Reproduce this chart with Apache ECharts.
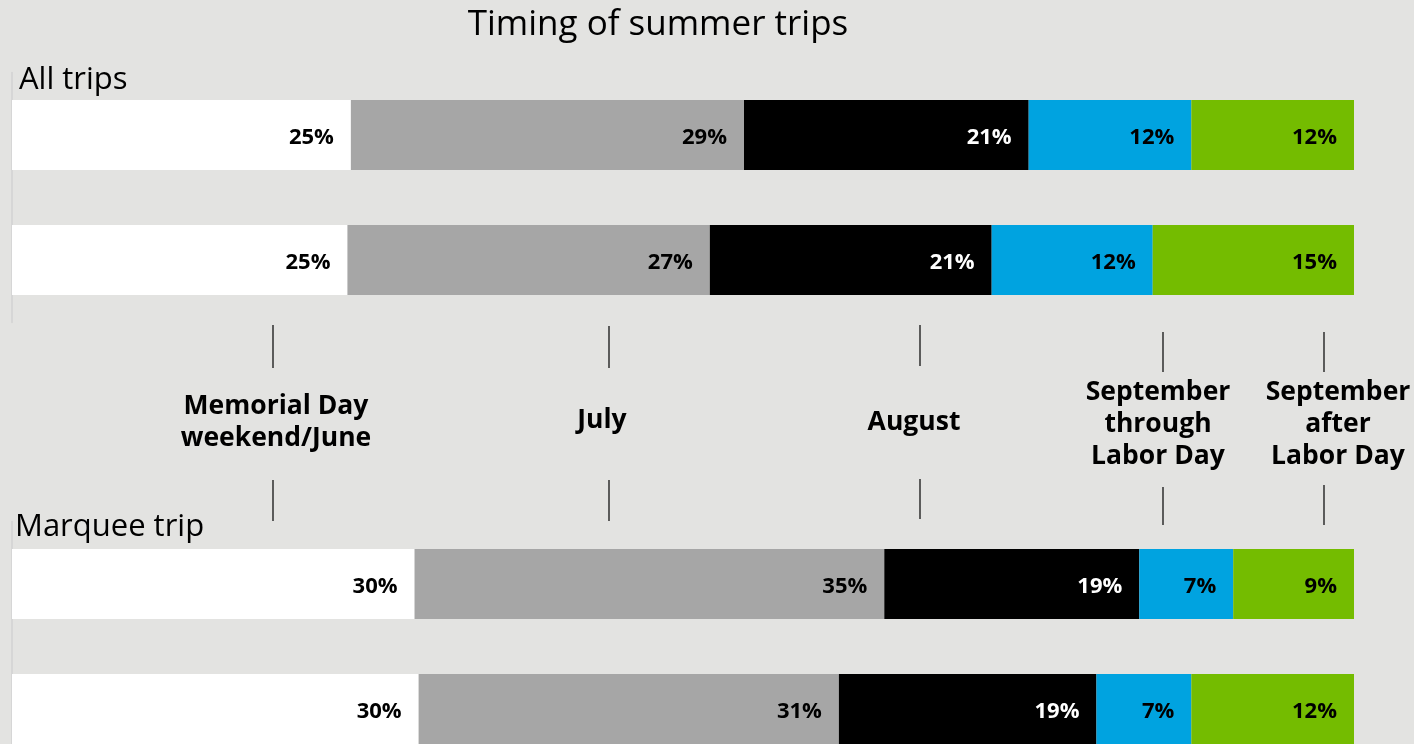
<!DOCTYPE html>
<html>
<head>
<meta charset="utf-8">
<style>
  html, body { margin: 0; padding: 0; background: #e3e3e1; overflow: hidden; }
  #chart { width: 1414px; height: 744px; }
</style>
<script src="https://cdn.jsdelivr.net/npm/echarts@6/dist/echarts.min.js"></script>
</head>
<body>
<div id="chart"></div>
<script>
// Trip-timing segments, in stacking order
const segmentNames = ['Memorial Day\nweekend/June', 'July', 'August', 'September\nthrough\nLabor Day', 'September\nafter\nLabor Day'];
const segmentColors = ['#ffffff', '#a6a6a6', '#000000', '#00a3e0', '#74bc00'];
const labelColors = ['#000000', '#000000', '#ffffff', '#000000', '#000000'];

// Share of trips (%) per bar, one array per segment
const allTripsRowIds = ['all-1', 'all-2'];
const allMemorialJune = [25, 25];
const allJuly = [29, 27];
const allAugust = [21, 21];
const allSeptBefore = [12, 12];
const allSeptAfter = [12, 15];

const marqueeRowIds = ['marquee-1', 'marquee-2'];
const marqueeMemorialJune = [30, 30];
const marqueeJuly = [35, 31];
const marqueeAugust = [19, 19];
const marqueeSeptBefore = [7, 7];
const marqueeSeptAfter = [9, 12];

const FONT = '"Open Sans", "Noto Sans", sans-serif';

function stackSeries(groupValues, axisIndex) {
  // each bar is scaled to 100% of its own total
  const totals = groupValues[0].map((_, r) => groupValues.reduce((s, seg) => s + seg[r], 0));
  return groupValues.map((seg, i) => ({
    type: 'bar',
    name: segmentNames[i],
    stack: 'g' + axisIndex,
    xAxisIndex: axisIndex,
    yAxisIndex: axisIndex,
    barWidth: 70,
    data: seg.map((v, r) => ({ value: v / totals[r] * 100, raw: v })),
    itemStyle: { color: segmentColors[i] },
    label: {
      show: true,
      position: 'insideRight',
      distance: 17,
      offset: [0, 3],
      color: labelColors[i],
      fontFamily: FONT,
      fontWeight: 'bold',
      fontSize: 22,
      formatter: p => p.data.raw + '%'
    },
    emphasis: { disabled: true },
    silent: true
  }));
}

const allGroup = [allMemorialJune, allJuly, allAugust, allSeptBefore, allSeptAfter];
const marqueeGroup = [marqueeMemorialJune, marqueeJuly, marqueeAugust, marqueeSeptBefore, marqueeSeptAfter];

// Segment key in the gap between the two groups
const keyItems = [
  { text: segmentNames[0], cx: 276, cy: 422, lineX: 273, top: [325, 368], bottom: [480, 521] },
  { text: segmentNames[1], cx: 602, cy: 420, lineX: 609, top: [326, 368], bottom: [480, 521] },
  { text: segmentNames[2], cx: 914, cy: 422, lineX: 920, top: [325, 366], bottom: [479, 519] },
  { text: segmentNames[3], cx: 1158, cy: 424, lineX: 1163, top: [332, 372], bottom: [487, 525] },
  { text: segmentNames[4], cx: 1338, cy: 424, lineX: 1324, top: [332, 372], bottom: [485, 525] }
];

const graphics = [];
keyItems.forEach(k => {
  graphics.push({
    type: 'text', x: k.cx, y: k.cy,
    style: { text: k.text, fill: '#000', font: 'bold 26.5px ' + FONT, align: 'center', verticalAlign: 'middle', lineHeight: 32 }
  });
  [k.top, k.bottom].forEach(seg => graphics.push({
    type: 'line',
    shape: { x1: k.lineX, y1: seg[0], x2: k.lineX, y2: seg[1] },
    style: { stroke: '#000', lineWidth: 1.2 }
  }));
});
graphics.push(
  { type: 'text', x: 19, y: 80, style: { text: 'All trips', fill: '#000', font: '31px ' + FONT, verticalAlign: 'middle' } },
  { type: 'text', x: 15, y: 527, style: { text: 'Marquee trip', fill: '#000', font: '31px ' + FONT, verticalAlign: 'middle' } }
);

const hiddenValueAxis = i => ({
  type: 'value', gridIndex: i, min: 0, max: 100, show: false
});
const rowAxis = (i, ids) => ({
  type: 'category', gridIndex: i, data: ids, inverse: true,
  axisLine: { show: true, lineStyle: { color: '#d2d2d2', width: 1.5 } },
  axisTick: { show: false }, axisLabel: { show: false }
});

const chart = echarts.init(document.getElementById('chart'), null, { renderer: 'canvas' });
chart.setOption({
  backgroundColor: '#e3e3e1',
  animation: false,
  title: {
    text: 'Timing of summer trips',
    left: 653, top: 3, textAlign: 'center',
    textStyle: { fontFamily: FONT, fontWeight: 'normal', fontSize: 35, color: '#000' }
  },
  grid: [
    { left: 12, top: 72.5, width: 1342, height: 250, outerBoundsMode: 'none' },
    { left: 12, top: 521.5, width: 1342, height: 250, outerBoundsMode: 'none' }
  ],
  xAxis: [hiddenValueAxis(0), hiddenValueAxis(1)],
  yAxis: [rowAxis(0, allTripsRowIds), rowAxis(1, marqueeRowIds)],
  series: [...stackSeries(allGroup, 0), ...stackSeries(marqueeGroup, 1)],
  graphic: graphics
});
</script>
</body>
</html>
